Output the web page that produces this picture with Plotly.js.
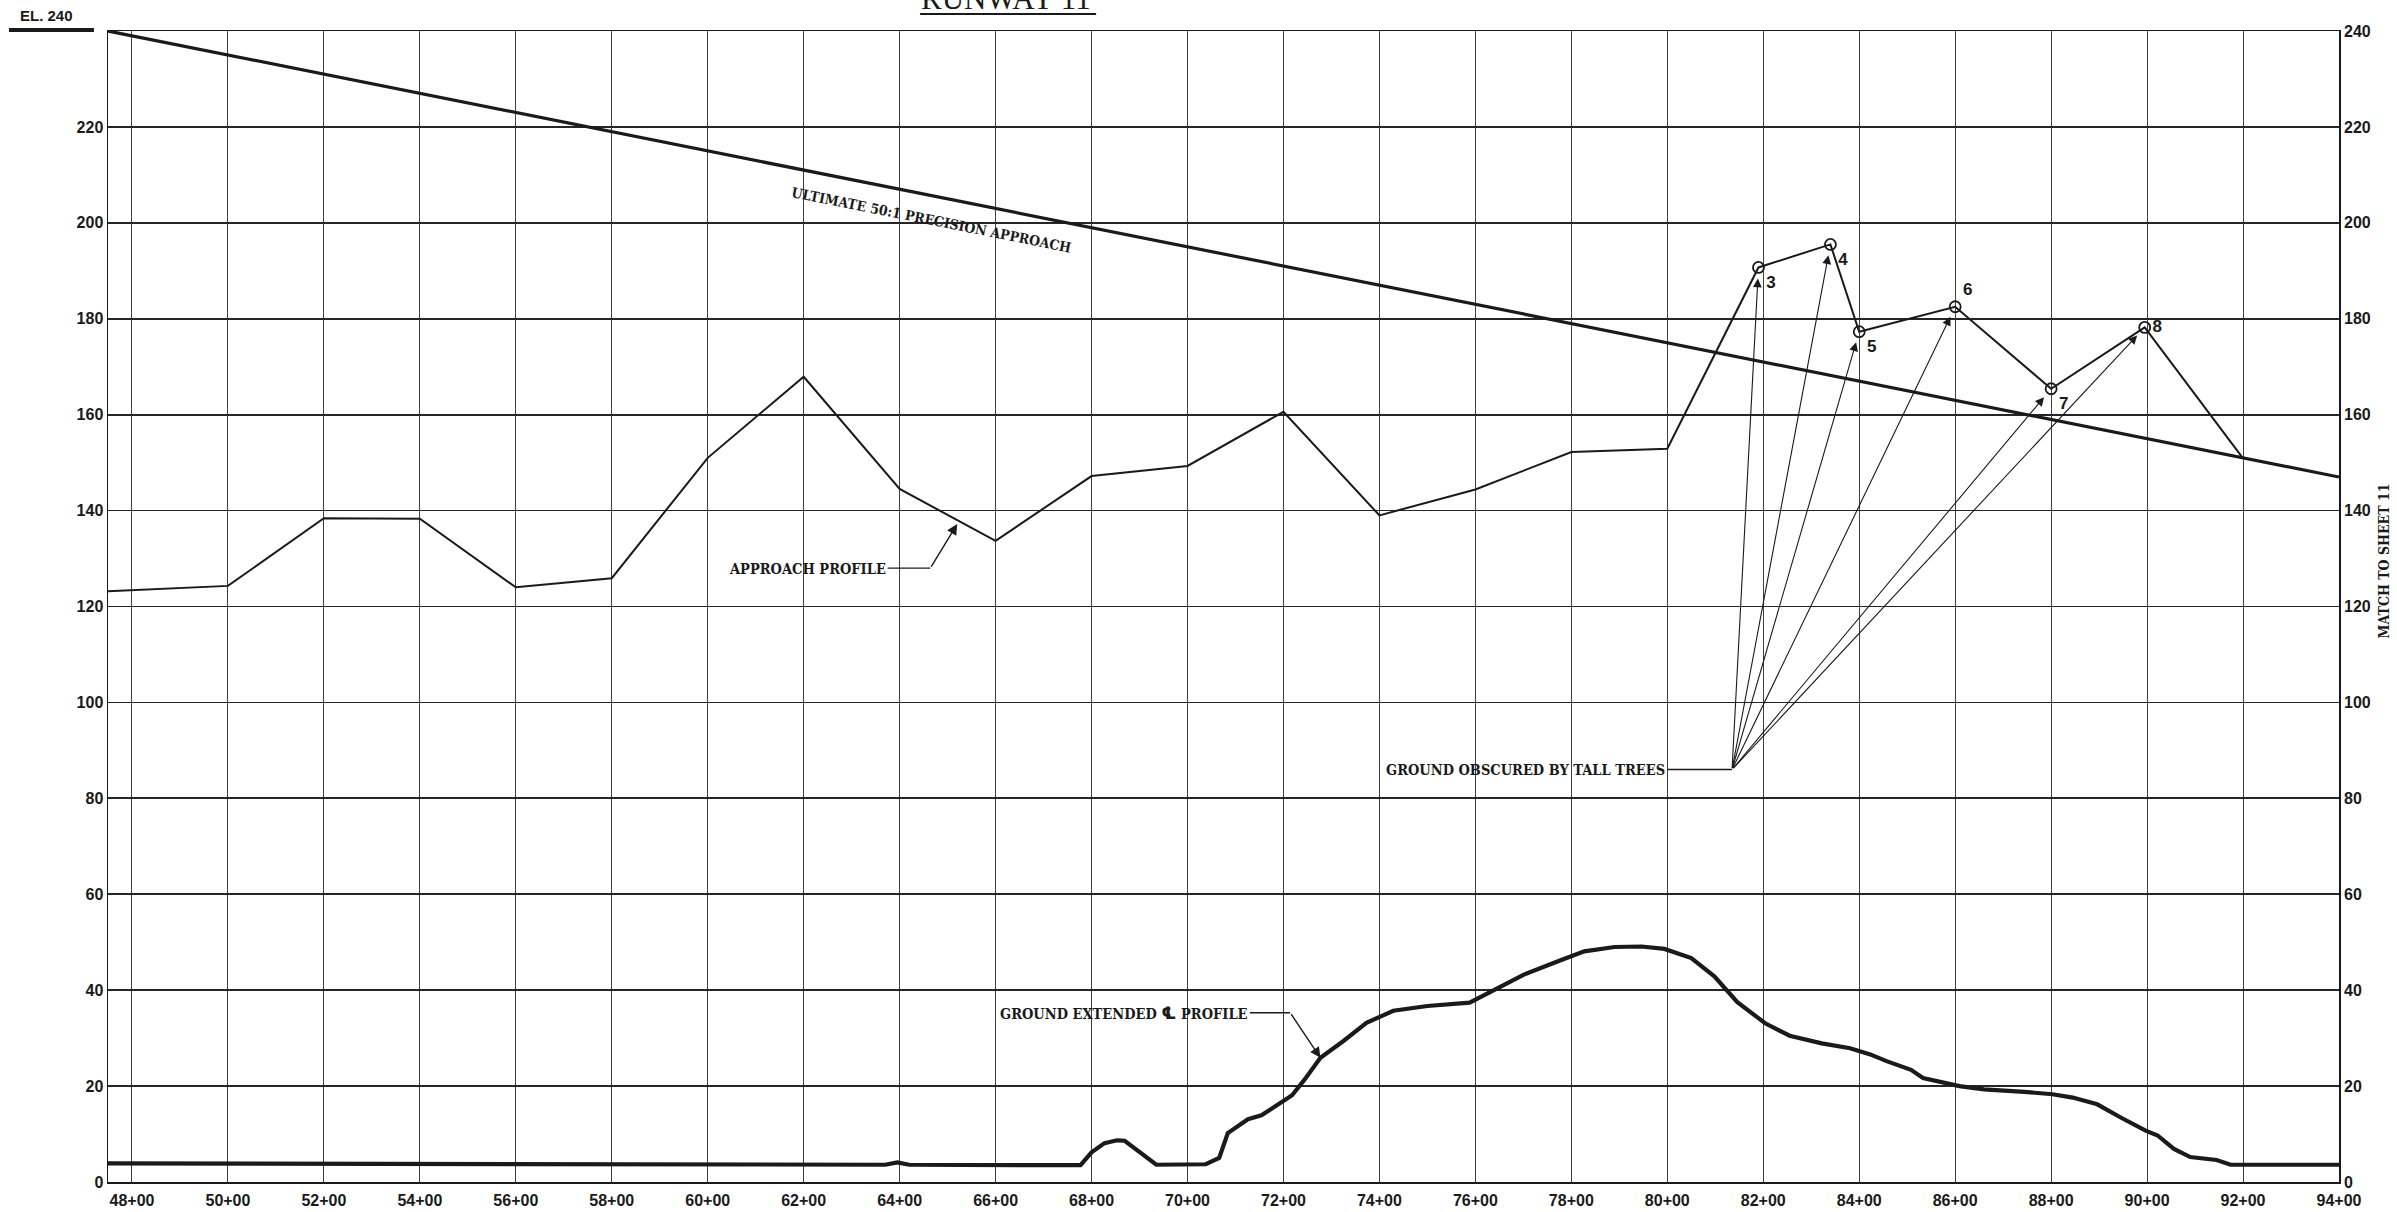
<!DOCTYPE html>
<html>
<head>
<meta charset="utf-8">
<script src="https://cdn.plot.ly/plotly-3.0.1.min.js"></script>
<style>html,body{margin:0;padding:0;background:#fff;}#chart{width:2397px;height:1212px;}</style>
</head>
<body>
<div id="chart"></div>
<script>
// ---------- DATA (stations in 100 ft, elevations in ft) ----------
const stationTicks = [48,50,52,54,56,58,60,62,64,66,68,70,72,74,76,78,80,82,84,86,88,90,92,94];
const stationLabels = ["48+00","50+00","52+00","54+00","56+00","58+00","60+00","62+00","64+00","66+00","68+00","70+00","72+00","74+00","76+00","78+00","80+00","82+00","84+00","86+00","88+00","90+00","92+00","94+00"];
const leftElevTicks = [0,20,40,60,80,100,120,140,160,180,200,220];
const rightElevTicks = [0,20,40,60,80,100,120,140,160,180,200,220,240];

// Ultimate 50:1 precision approach surface
const surfaceStation = [47.5, 94.0];
const surfaceElev = [240, 147];

// Approach profile
const profileStation = [47.5, 50, 52, 54, 56, 58, 60, 62, 64, 66, 68, 70, 72, 74, 76, 78, 80, 81.9, 83.4, 84.0, 86.0, 88.0, 89.95, 92.0];
const profileElev = [123.2, 124.3, 138.4, 138.3, 124.0, 125.9, 151.0, 167.9, 144.5, 133.7, 147.2, 149.3, 160.6, 139.0, 144.4, 152.2, 152.9, 190.7, 195.5, 177.3, 182.5, 165.4, 178.2, 150.9];

// Obstruction points (ground obscured by tall trees)
const obsLabels = ["3","4","5","6","7","8"];
const obsStation = [81.9, 83.4, 84.0, 86.0, 88.0, 89.95];
const obsElev = [190.7, 195.5, 177.3, 182.5, 165.4, 178.2];

// Ground extended centerline profile
const groundStation = [47.5, 56, 63.7, 63.95, 64.2, 67.77, 68.0, 68.27, 68.53, 68.69, 69.35, 70.38, 70.66, 70.84, 71.26, 71.54, 72.18, 72.45, 72.77, 73.25, 73.73, 74.29, 75.0, 75.88, 76.36, 77.0, 77.79, 78.27, 78.9, 79.46, 79.94, 80.5, 80.98, 81.46, 82.04, 82.55, 83.22, 83.81, 84.23, 84.57, 85.08, 85.33, 86.09, 86.6, 87.44, 88.03, 88.45, 88.96, 89.46, 89.97, 90.22, 90.56, 90.9, 91.45, 91.74, 94.0];
const groundElev = [3.9, 3.7, 3.6, 4.1, 3.6, 3.5, 6.2, 8.1, 8.7, 8.6, 3.6, 3.7, 5.0, 10.2, 13.1, 13.9, 18.1, 21.5, 25.9, 29.4, 33.2, 35.7, 36.7, 37.4, 39.8, 43.2, 46.3, 48.1, 49.0, 49.1, 48.6, 46.7, 42.9, 37.5, 33.1, 30.5, 28.9, 27.9, 26.6, 25.2, 23.4, 21.7, 20.0, 19.3, 18.8, 18.3, 17.6, 16.2, 13.4, 10.7, 9.7, 6.9, 5.2, 4.6, 3.6, 3.6];

// Leader lines for notes
const approachLeaderStation = [63.75, 64.64];
const approachLeaderElev = [128.0, 128.0];
const approachLeaderTip = [65.2, 137.2];
const groundLeaderStation = [71.3, 72.14];
const groundLeaderElev = [35.3, 35.3];
const groundLeaderTip = [72.77, 25.9];
const treesLeaderStation = [80.0, 81.35];
const treesLeaderElev = [86.0, 86.0];

// ---------- STYLE ----------
const INK = '#1a1a1a';
const tickFont = {family:'Liberation Sans, Arial', size:16, color:INK, weight:'bold'};
const noteFont = {family:'DejaVu Serif Condensed, DejaVu Serif', size:14.5, color:INK, weight:'bold'};

const traces = [
  {x:surfaceStation, y:surfaceElev, xaxis:'x', yaxis:'y2', mode:'lines', line:{color:INK, width:3.2}, hoverinfo:'skip'},
  {x:groundStation, y:groundElev, mode:'lines', line:{color:INK, width:4.2}, hoverinfo:'skip'},
  {x:profileStation, y:profileElev, mode:'lines', line:{color:INK, width:2}, hoverinfo:'skip'},
  {x:approachLeaderStation, y:approachLeaderElev, mode:'lines', line:{color:INK, width:1.4}, hoverinfo:'skip'},
  {x:groundLeaderStation, y:groundLeaderElev, mode:'lines', line:{color:INK, width:1.4}, hoverinfo:'skip'},
  {x:treesLeaderStation, y:treesLeaderElev, mode:'lines', line:{color:INK, width:1.4}, hoverinfo:'skip'},
  {x:obsStation, y:obsElev, mode:'markers+text', text:obsLabels,
   textposition:['bottom right','bottom right','bottom right','top right','bottom right','middle right'],
   textfont:{family:'Liberation Sans, Arial', size:17, color:INK, weight:'bold'},
   marker:{symbol:'circle-open', size:11, color:INK, line:{color:INK, width:1.8}}, hoverinfo:'skip'}
];

const annotations = [];
// fan of arrows to obstruction points
for (let i = 0; i < obsStation.length; i++) {
  annotations.push({x:obsStation[i], y:obsElev[i], xref:'x', yref:'y',
    ax:treesLeaderStation[1], ay:treesLeaderElev[1], axref:'x', ayref:'y',
    text:'', showarrow:true, arrowhead:2, arrowsize:1.6, arrowwidth:1.1, arrowcolor:INK, standoff:11});
}
// leader arrows
annotations.push({x:approachLeaderTip[0], y:approachLeaderTip[1], xref:'x', yref:'y',
  ax:approachLeaderStation[1], ay:approachLeaderElev[1], axref:'x', ayref:'y',
  text:'', showarrow:true, arrowhead:2, arrowsize:1.5, arrowwidth:1.4, arrowcolor:INK, standoff:0});
annotations.push({x:groundLeaderTip[0], y:groundLeaderTip[1], xref:'x', yref:'y',
  ax:groundLeaderStation[1], ay:groundLeaderElev[1], axref:'x', ayref:'y',
  text:'', showarrow:true, arrowhead:2, arrowsize:1.5, arrowwidth:1.4, arrowcolor:INK, standoff:0});
// notes
annotations.push({x:approachLeaderStation[0], y:approachLeaderElev[0], xref:'x', yref:'y', xanchor:'right', yanchor:'middle',
  text:'APPROACH PROFILE', showarrow:false, font:noteFont});
annotations.push({x:groundLeaderStation[0], y:groundLeaderElev[0], xref:'x', yref:'y', xanchor:'right', yanchor:'middle',
  text:'GROUND EXTENDED <span style="font-family:DejaVu Sans;font-size:17px">\u2104</span> PROFILE', showarrow:false, font:noteFont});
annotations.push({x:treesLeaderStation[0], y:treesLeaderElev[0], xref:'x', yref:'y', xanchor:'right', yanchor:'middle',
  text:'GROUND OBSCURED BY TALL TREES', showarrow:false, font:noteFont});
annotations.push({x:64.67, y:200.6, xref:'x', yref:'y', xanchor:'center', yanchor:'middle', textangle:11.3,
  text:'ULTIMATE 50:1 PRECISION APPROACH', showarrow:false, font:{family:'DejaVu Serif Condensed, DejaVu Serif', size:14, color:INK, weight:'bold'}});
annotations.push({x:1.0206, y:0.54, xref:'paper', yref:'paper', xanchor:'center', yanchor:'middle', textangle:-90,
  text:'MATCH TO SHEET 11', showarrow:false, font:{family:'DejaVu Serif Condensed, DejaVu Serif', size:14, color:INK, weight:'bold'}});
annotations.push({x:-0.0275, y:1.0139, xref:'paper', yref:'paper', xanchor:'center', yanchor:'middle',
  text:'EL. 240', showarrow:false, font:{family:'Liberation Sans, Arial', size:15, color:INK, weight:'bold'}});
annotations.push({x:0.4025, y:1.0285, xref:'paper', yref:'paper', xanchor:'center', yanchor:'middle',
  text:'RUNWAY 11', showarrow:false, font:{family:'Liberation Serif', size:31, color:INK}});

const shapes = [
  {type:'line', xref:'paper', yref:'paper', x0:-0.0444, x1:-0.0063, y0:1.0009, y1:1.0009, line:{color:INK, width:4}},
  {type:'line', xref:'paper', yref:'paper', x0:0.364, x1:0.4429, y0:1.0148, y1:1.0148, line:{color:INK, width:2}}
];

const layout = {
  width:2397, height:1212,
  margin:{l:108, r:58, t:31, b:30},
  paper_bgcolor:'#ffffff', plot_bgcolor:'#ffffff',
  showlegend:false,
  xaxis:{range:[47.5, 94], tickmode:'array', tickvals:stationTicks, ticktext:stationLabels,
    showgrid:true, gridcolor:'#404040', gridwidth:1, zeroline:false,
    showline:true, linecolor:INK, linewidth:1.5, mirror:true, ticks:'',
    tickfont:tickFont, ticklabelstandoff:3, fixedrange:true},
  yaxis:{range:[0, 240], tickmode:'array', tickvals:leftElevTicks, ticktext:leftElevTicks.map(String),
    showgrid:true, gridcolor:'#262626', gridwidth:1.8, zeroline:false,
    showline:true, linecolor:INK, linewidth:1.5, mirror:true, ticks:'',
    tickfont:tickFont, fixedrange:true},
  yaxis2:{range:[0, 240], overlaying:'y', side:'right', tickmode:'array', tickvals:rightElevTicks, ticktext:rightElevTicks.map(String),
    showgrid:false, zeroline:false, showline:false, ticks:'', tickfont:tickFont, ticklabelstandoff:4, fixedrange:true},
  annotations:annotations,
  shapes:shapes
};

Plotly.newPlot('chart', traces, layout, {displayModeBar:false, staticPlot:true});
</script>
</body>
</html>
